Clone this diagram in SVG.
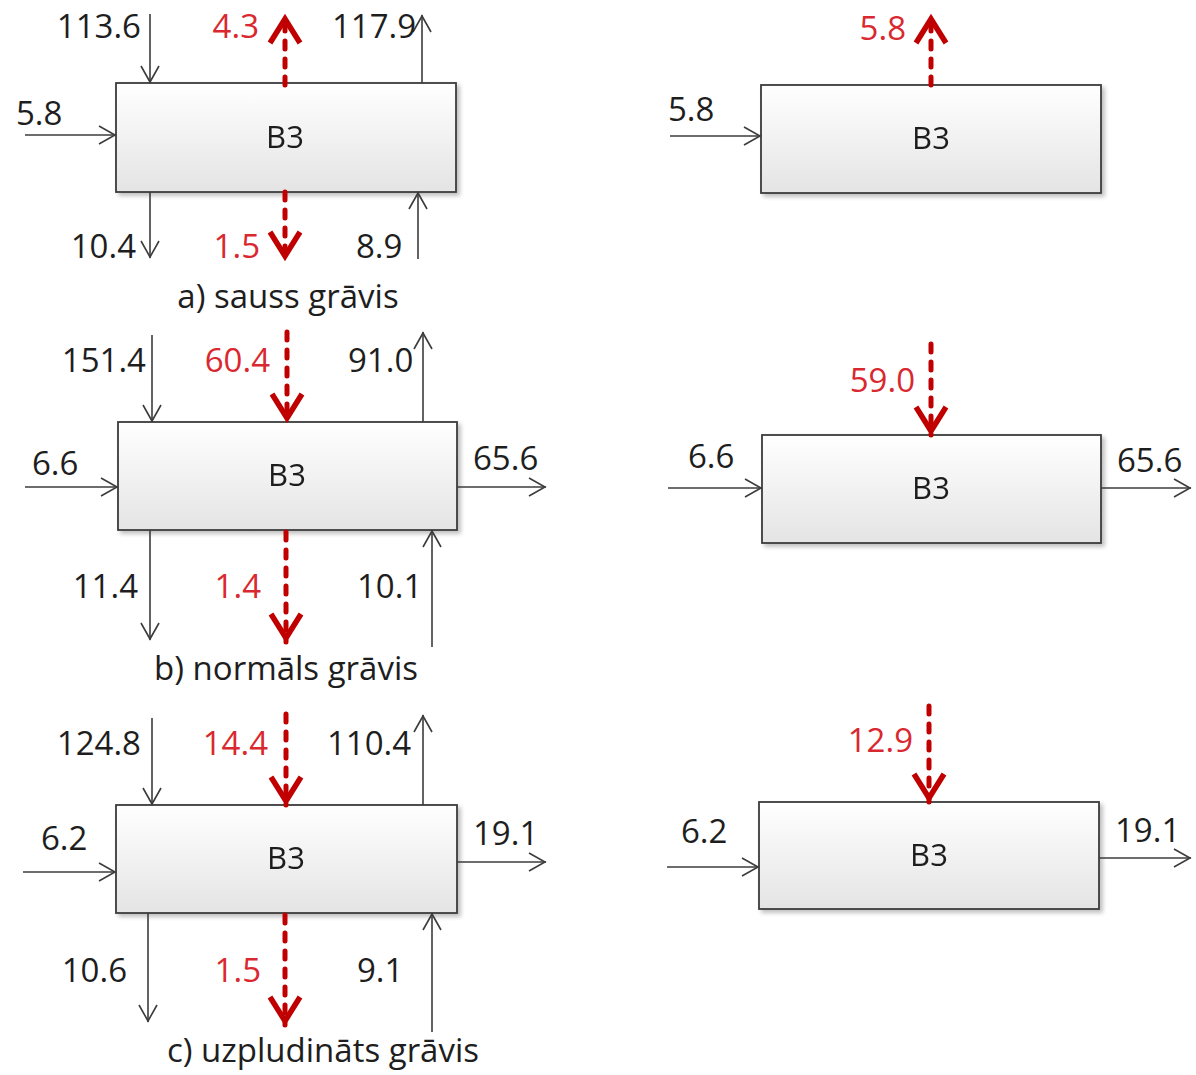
<svg xmlns="http://www.w3.org/2000/svg" width="1196" height="1075" viewBox="0 0 1196 1075">
  <defs>
    <linearGradient id="boxFill" x1="0" y1="0" x2="0" y2="1">
      <stop offset="0" stop-color="#ffffff"/>
      <stop offset="1" stop-color="#e4e4e4"/>
    </linearGradient>
    <filter id="shadow" x="-5%" y="-10%" width="115%" height="130%">
      <feGaussianBlur in="SourceAlpha" stdDeviation="2"/>
      <feOffset dx="3" dy="3" result="blur"/>
      <feComponentTransfer><feFuncA type="linear" slope="0.25"/></feComponentTransfer>
      <feMerge><feMergeNode/><feMergeNode in="SourceGraphic"/></feMerge>
    </filter>
    <!-- thin open arrowhead for flow lines -->
    <marker id="open" viewBox="-20 -11 22 22" refX="0" refY="0" markerWidth="22" markerHeight="22" markerUnits="userSpaceOnUse" orient="auto">
      <path d="M-17,-9 L-1,0 L-17,9" fill="none" stroke="#3c3c3c" stroke-width="1.6"/>
    </marker>
    <!-- bold chevron for the red dashed flows -->
    <marker id="chev" viewBox="-32 -18 34 36" refX="0" refY="0" markerWidth="34" markerHeight="36" markerUnits="userSpaceOnUse" orient="auto">
      <path d="M-28,-15 L-4,0 L-28,15" fill="none" stroke="#c00000" stroke-width="5.5" stroke-linejoin="miter" stroke-dasharray="none"/>
    </marker>
  </defs>
  <style>
    .box { fill: url(#boxFill); stroke: #3c3c3c; stroke-width: 1.8; }
    .name { font-family: "Open Sans", "Liberation Sans", sans-serif; font-size: 31px; fill: #1e1e1e; text-anchor: middle; }
    .num { font-family: "Open Sans", "Liberation Sans", sans-serif; font-size: 33px; fill: #1e1e1e; }
    .red { fill: #d9282f; }
    .end { text-anchor: end; }
    .cap { font-family: "Open Sans", "Liberation Sans", sans-serif; font-size: 33px; fill: #1e1e1e; text-anchor: middle; }
    .flow { fill: none; stroke: #3c3c3c; stroke-width: 1.6; marker-end: url(#open); }
    .dash { fill: none; stroke: #c00000; stroke-width: 5; stroke-dasharray: 8 10; stroke-linecap: round; marker-end: url(#chev); }
  </style>

  <rect width="1196" height="1075" fill="#ffffff"/>

  <!-- balance boxes -->
  <g id="a-left" filter="url(#shadow)">
    <rect class="box" x="116" y="83" width="340" height="109"/>
    <text class="name" x="285" y="148">B3</text>
  </g>
  <g id="a-right" filter="url(#shadow)">
    <rect class="box" x="761" y="85" width="340" height="108"/>
    <text class="name" x="931" y="149">B3</text>
  </g>
  <g id="b-left" filter="url(#shadow)">
    <rect class="box" x="118" y="422" width="339" height="108"/>
    <text class="name" x="287" y="486">B3</text>
  </g>
  <g id="b-right" filter="url(#shadow)">
    <rect class="box" x="762" y="435" width="339" height="108"/>
    <text class="name" x="931" y="499">B3</text>
  </g>
  <g id="c-left" filter="url(#shadow)">
    <rect class="box" x="116" y="805" width="341" height="108"/>
    <text class="name" x="286" y="869">B3</text>
  </g>
  <g id="c-right" filter="url(#shadow)">
    <rect class="box" x="759" y="802" width="340" height="107"/>
    <text class="name" x="929" y="866">B3</text>
  </g>

  <!-- flows -->
  <g id="connectors">
    <!-- a) left -->
    <path class="flow" d="M150,14 V83"/>
    <path class="flow" d="M422,83 V15"/>
    <path class="flow" d="M25,135 H116"/>
    <path class="flow" d="M150,192 V258"/>
    <path class="flow" d="M418,259 V192"/>
    <path class="dash" d="M285,85 V15"/>
    <path class="dash" d="M285,192 V260"/>
    <!-- a) right -->
    <path class="flow" d="M670,136 H761"/>
    <path class="dash" d="M931,85 V15"/>
    <!-- b) left -->
    <path class="flow" d="M152,335 V422"/>
    <path class="flow" d="M423,422 V332"/>
    <path class="flow" d="M25,487 H118"/>
    <path class="flow" d="M457,487 H546"/>
    <path class="flow" d="M150,530 V640"/>
    <path class="flow" d="M432,647 V530"/>
    <path class="dash" d="M287,332 V422"/>
    <path class="dash" d="M286,532 V642"/>
    <!-- b) right -->
    <path class="flow" d="M668,488 H762"/>
    <path class="flow" d="M1101,488 H1191"/>
    <path class="dash" d="M931,344 V435"/>
    <!-- c) left -->
    <path class="flow" d="M152,718 V805"/>
    <path class="flow" d="M423,805 V715"/>
    <path class="flow" d="M23,872 H116"/>
    <path class="flow" d="M457,862 H546"/>
    <path class="flow" d="M148,913 V1022"/>
    <path class="flow" d="M432,1032 V913"/>
    <path class="dash" d="M286,714 V805"/>
    <path class="dash" d="M285,915 V1025"/>
    <!-- c) right -->
    <path class="flow" d="M667,867 H759"/>
    <path class="flow" d="M1099,858 H1191"/>
    <path class="dash" d="M929,706 V802"/>
  </g>

  <!-- flow values -->
  <g id="labels">
    <!-- a) left -->
    <text class="num end" x="141" y="38">113.6</text>
    <text class="num red end" x="259" y="38">4.3</text>
    <text class="num" x="332" y="38">117.9</text>
    <text class="num" x="16" y="125">5.8</text>
    <text class="num end" x="136" y="258">10.4</text>
    <text class="num red end" x="260" y="258">1.5</text>
    <text class="num" x="356" y="258">8.9</text>
    <!-- a) right -->
    <text class="num red end" x="906" y="40">5.8</text>
    <text class="num" x="668" y="121">5.8</text>
    <!-- b) left -->
    <text class="num end" x="146" y="372">151.4</text>
    <text class="num red end" x="270" y="372">60.4</text>
    <text class="num" x="348" y="372">91.0</text>
    <text class="num" x="32" y="475">6.6</text>
    <text class="num" x="473" y="470">65.6</text>
    <text class="num end" x="138" y="598">11.4</text>
    <text class="num red end" x="261" y="598">1.4</text>
    <text class="num" x="357" y="598">10.1</text>
    <!-- b) right -->
    <text class="num red end" x="915" y="392">59.0</text>
    <text class="num" x="688" y="468">6.6</text>
    <text class="num" x="1117" y="472">65.6</text>
    <!-- c) left -->
    <text class="num end" x="141" y="755">124.8</text>
    <text class="num red end" x="268" y="755">14.4</text>
    <text class="num" x="327" y="755">110.4</text>
    <text class="num" x="41" y="850">6.2</text>
    <text class="num" x="473" y="845">19.1</text>
    <text class="num end" x="127" y="982">10.6</text>
    <text class="num red end" x="261" y="982">1.5</text>
    <text class="num" x="357" y="982">9.1</text>
    <!-- c) right -->
    <text class="num red end" x="913" y="752">12.9</text>
    <text class="num" x="681" y="843">6.2</text>
    <text class="num" x="1115" y="842">19.1</text>
  </g>

  <!-- panel captions -->
  <g id="captions">
    <text class="cap" x="288" y="308">a) sauss grāvis</text>
    <text class="cap" x="286" y="680">b) normāls grāvis</text>
    <text class="cap" x="323" y="1062">c) uzpludināts grāvis</text>
  </g>
</svg>
